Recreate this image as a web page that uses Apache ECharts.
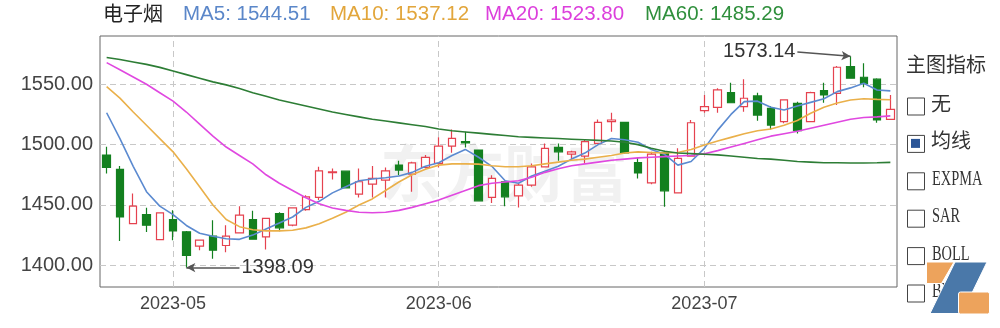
<!DOCTYPE html>
<html><head><meta charset="utf-8">
<script src="https://cdn.jsdelivr.net/npm/echarts@6/dist/echarts.min.js"></script>
<style>html,body{margin:0;padding:0;background:#fff}#c{width:1000px;height:328px}</style>
</head><body><div id="c"></div>
<script>
const title = '电子烟';
const dates = [
 '2023-04-24','2023-04-25','2023-04-26','2023-04-27','2023-04-28',
 '2023-05-04','2023-05-05','2023-05-08','2023-05-09','2023-05-10','2023-05-11','2023-05-12',
 '2023-05-15','2023-05-16','2023-05-17','2023-05-18','2023-05-19',
 '2023-05-22','2023-05-23','2023-05-24','2023-05-25','2023-05-26',
 '2023-05-29','2023-05-30','2023-05-31',
 '2023-06-01','2023-06-02','2023-06-05','2023-06-06','2023-06-07','2023-06-08','2023-06-09',
 '2023-06-12','2023-06-13','2023-06-14','2023-06-15','2023-06-16',
 '2023-06-19','2023-06-20','2023-06-21',
 '2023-06-26','2023-06-27','2023-06-28','2023-06-29','2023-06-30',
 '2023-07-03','2023-07-04','2023-07-05','2023-07-06','2023-07-07',
 '2023-07-10','2023-07-11','2023-07-12','2023-07-13','2023-07-14',
 '2023-07-17','2023-07-18','2023-07-19','2023-07-20','2023-07-21'
];
const opens = [1491.3,1479.4,1434.6,1442.1,1421.3,1437.9,1427.7,1415.8,1424.1,1416.4,
 1426.8,1437.9,1423.5,1442.9,1433.2,1446.2,1456.2,1476.8,1478.0,1458.9,
 1467.2,1470.6,1483.0,1475.5,1481.1,1484.4,1498.8,1502.4,1495.5,1456.2,
 1469.2,1457.5,1466.4,1481.6,1497.7,1492.1,1490.5,1501.0,1519.0,1518.5,
 1485.0,1468.3,1493.2,1460.0,1490.5,1528.1,1530.9,1543.0,1531.4,1540.3,
 1530.1,1519.0,1534.2,1519.0,1544.7,1542.5,1564.6,1555.8,1554.2,1520.9];
const closes = [1481.1,1440.1,1449.0,1433.2,1443.4,1428.5,1408.1,1420.8,1412.5,1424.1,
 1441.5,1421.6,1438.8,1431.0,1447.6,1456.7,1478.3,1477.5,1464.2,1469.2,
 1472.0,1478.3,1478.9,1484.9,1489.4,1498.8,1505.2,1501.5,1453.4,1472.0,
 1456.7,1466.4,1481.6,1496.9,1494.0,1494.0,1502.4,1518.5,1520.4,1493.2,
 1476.5,1492.1,1461.7,1488.6,1518.1,1531.4,1545.3,1534.7,1538.4,1524.5,
 1516.2,1537.0,1511.5,1543.0,1541.1,1564.1,1555.0,1550.8,1520.4,1529.2];
const lows = [1476.1,1420.2,1434.0,1427.6,1421.0,1420.8,1398.09,1412.5,1405.5,1410.8,
 1426.8,1421.6,1413.0,1428.2,1432.4,1445.1,1454.0,1471.1,1463.7,1456.2,
 1456.2,1456.2,1474.7,1460.9,1480.3,1481.1,1493.2,1497.7,1453.4,1451.7,
 1449.0,1447.9,1465.0,1481.0,1486.6,1487.2,1484.4,1500.5,1510.7,1492.5,
 1472.0,1467.2,1448.4,1459.5,1489.9,1526.4,1526.4,1534.2,1527.3,1519.8,
 1512.6,1517.6,1509.3,1518.5,1534.7,1532.8,1554.5,1547.5,1518.1,1520.5];
const highs = [1498.2,1482.2,1459.5,1447.6,1444.0,1445.7,1428.5,1421.3,1437.4,1433.2,
 1449.0,1445.1,1439.3,1444.0,1447.9,1458.1,1481.6,1480.3,1478.3,1480.3,
 1482.2,1481.1,1486.6,1485.8,1491.3,1506.0,1512.6,1510.7,1496.0,1474.7,
 1469.2,1467.8,1484.4,1501.0,1501.0,1494.9,1503.8,1520.9,1526.4,1519.0,
 1489.0,1494.0,1494.9,1496.9,1520.4,1541.1,1546.7,1551.3,1554.1,1543.0,
 1532.0,1537.5,1535.6,1543.9,1551.3,1565.2,1573.14,1567.4,1555.0,1541.1];
const ma5 = [1526.4,1505,1482,1461,1449,1442,1433,1426.5,1424,1422,
 1421.5,1425,1430,1435,1440,1448,1453,1460,1465,1470,
 1471.5,1472.5,1474,1477,1482,1485,1491,1496,1489.5,1482,
 1470,1468,1474,1478,1482,1488,1493,1500,1505,1504,
 1502,1496,1492,1483,1486,1496.9,1512,1525,1535.6,1536,
 1531,1528.7,1532,1535,1538,1543.9,1547,1550.8,1545.3,1544.51];
const ma10 = [1548,1538.5,1527,1516,1505,1494,1480,1465,1450,1438,
 1432,1429.5,1428.5,1428.5,1429,1431,1434.5,1439,1444,1450,
 1455,1462,1469,1475,1479.5,1483,1484,1484,1483.8,1482.5,
 1481.6,1481.6,1482.5,1484,1485.5,1487,1488,1489.5,1491,1493,
 1494,1493.5,1493,1493.5,1496,1499.6,1503,1506,1509,1511.5,
 1513,1516,1520,1526,1531,1534.5,1537,1538,1537.5,1537.12];
const ma20 = [1567.9,1562,1556,1550,1543,1536,1527,1517,1507,1498,
 1491,1484,1475,1468,1462,1456,1451,1447.5,1445.5,1444,
 1443.5,1444,1445.5,1448,1451,1454,1458,1462,1466,1468,
 1469,1470,1473,1477,1480,1482.5,1484,1485.5,1487,1488,
 1489,1489.5,1490,1490.5,1491,1492.5,1495,1498,1501,1504,
 1507,1509,1511,1513.5,1516,1518.5,1521,1522.5,1523,1523.8];
const ma60 = [1572.2,1570.5,1568.5,1566.5,1564,1561,1558,1555,1552,1549.5,
 1546.5,1543,1540,1537,1534.5,1532,1529.5,1527,1525,1523,
 1521,1519.5,1518,1516.5,1515,1513,1511.5,1510.5,1509.5,1508.5,
 1507.5,1506.5,1506,1505.5,1505,1504.5,1504,1503.5,1503,1502,
 1500,1497,1494.5,1493,1492.5,1492,1491.5,1490.5,1489.5,1488.5,
 1488,1487,1486,1485.5,1485,1485,1484.8,1484.8,1485,1485.29];
const yTicks = [1400, 1450, 1500, 1550];
const indicatorItems = ['无', '均线', 'EXPMA', 'SAR', 'BOLL', 'BBI'];
const indicatorChecked = '均线';

const maSeries = [
  {name: 'MA5', data: ma5, color: '#5b8ad0', legendColor: '#5b87c9'},
  {name: 'MA10', data: ma10, color: '#eab04a', legendColor: '#e2a63c'},
  {name: 'MA20', data: ma20, color: '#e048e0', legendColor: '#dc3fdc'},
  {name: 'MA60', data: ma60, color: '#2d7d35', legendColor: '#2f8f3c'}
];

const candleData = dates.map((d, i) => [opens[i], closes[i], lows[i], highs[i]]);
const monthStarts = [];
dates.forEach((d, i) => { if (i > 0 && d.slice(0, 7) !== dates[i - 1].slice(0, 7)) monthStarts.push(i); });
let hiIdx = 0, loIdx = 0;
highs.forEach((v, i) => { if (v > highs[hiIdx]) hiIdx = i; });
lows.forEach((v, i) => { if (v < lows[loIdx]) loIdx = i; });

const chart = echarts.init(document.getElementById('c'), null, {renderer: 'canvas'});

const latinFont = '"Liberation Sans", Arial, sans-serif';
const cjkFont = '"Noto Sans CJK SC", "Liberation Sans", sans-serif';

const graphics = [];
graphics.push({type: 'text', left: 103, top: 3, z: 10,
  style: {text: title, fill: '#222', font: '20px ' + cjkFont}});
const legendX = [183, 330, 485, 645];
maSeries.forEach((s, k) => {
  graphics.push({type: 'text', left: legendX[k], top: 4, z: 10,
    style: {text: s.name + ': ' + s.data[s.data.length - 1].toFixed(2), fill: s.legendColor,
      font: '20.5px ' + latinFont}});
});
// watermark
graphics.push({type: 'text', left: 380, top: 142, z: 0, silent: true,
  style: {text: '东方财富', fill: 'rgba(120,120,120,0.10)', font: 'bold 62px ' + cjkFont}});
// right indicator panel
graphics.push({type: 'text', left: 906, top: 54, z: 10,
  style: {text: '主图指标', fill: '#333', font: '20px ' + cjkFont}});
indicatorItems.forEach((t, k) => {
  const cy = 106 + k * 37.4;
  graphics.push({type: 'rect', left: 907, top: cy - 8.5, z: 10,
    shape: {width: 17, height: 17}, style: {fill: '#fff', stroke: '#444', lineWidth: 1}});
  if (t === indicatorChecked) {
    graphics.push({type: 'rect', left: 911, top: cy - 4.5, z: 11,
      shape: {width: 9, height: 9}, style: {fill: '#2b5597'}});
  }
  const isCjk = /[\u4e00-\u9fff]/.test(t);
  if (isCjk) {
    graphics.push({type: 'text', left: 931, top: cy - 13, z: 10,
      style: {text: t, fill: '#333', font: '20px ' + cjkFont}});
  } else {
    graphics.push({type: 'text', x: 932, y: cy - 11, scaleX: 0.72, z: 10,
      style: {text: t, fill: '#333', font: '20px "Liberation Serif", serif'}});
  }
});
// corner logo
graphics.push({type: 'polygon', z: 20, shape: {points: [[955, 262], [987, 262], [962, 313.5], [930, 313.5]]}, style: {fill: '#4a78a9', stroke: '#fff', lineWidth: 1}});
graphics.push({type: 'polygon', z: 21, shape: {points: [[926.5, 262], [954, 262], [941.5, 283.5], [926.5, 283.5]]}, style: {fill: '#eda35c', stroke: '#fff', lineWidth: 1}});
graphics.push({type: 'rect', z: 21, left: 958, top: 291.5, shape: {width: 31, height: 22, r: 2}, style: {fill: '#eda35c', stroke: '#fff', lineWidth: 1}});

const option = {
  animation: false,
  backgroundColor: '#fff',
  grid: {left: 100, right: 103, top: 36, bottom: 41, show: true,
    borderColor: '#666', borderWidth: 1, backgroundColor: 'transparent'},
  xAxis: {
    type: 'category', data: dates, boundaryGap: true,
    axisLine: {show: false}, axisTick: {show: false}, splitLine: {show: false},
    axisLabel: {
      interval: (i) => monthStarts.indexOf(i) >= 0,
      formatter: (v) => v.slice(0, 7),
      fontSize: 18, color: '#444', margin: 8, fontFamily: 'Liberation Sans'
    }
  },
  yAxis: {
    type: 'value', min: 1382, max: 1590, scale: true,
    axisLine: {show: false},
    axisTick: {show: false, customValues: yTicks},
    axisLabel: {customValues: yTicks, formatter: (v) => v.toFixed(2),
      fontSize: 20, color: '#444', margin: 7, fontFamily: 'Liberation Sans'},
    splitLine: {show: true, lineStyle: {color: '#c8c8c8', type: [6, 4], width: 1}}
  },
  graphic: {elements: graphics},
  series: [
    {
      type: 'line', name: 'grid-v', data: [], silent: true, showSymbol: false,
      markLine: {
        silent: true, symbol: ['none', 'none'], z: 1, animation: false,
        label: {show: false},
        lineStyle: {color: '#c8c8c8', type: [6, 4], width: 1},
        data: monthStarts.map(i => ({xAxis: dates[i]}))
      }
    },
    {
      type: 'candlestick', name: title, data: candleData, barWidth: 8, z: 3,
      itemStyle: {color: '#ffffff', color0: '#13801f', borderColor: '#e5424f', borderColor0: '#13801f', borderWidth: 1.2},
      markLine: {
        silent: true, animation: false, z: 6,
        symbol: ['none', 'arrow'], symbolSize: [7, 9],
        lineStyle: {color: '#555', type: 'solid', width: 1.5},
        label: {show: true, position: 'start', fontSize: 20, color: '#333', fontFamily: 'Liberation Sans', distance: 2},
        data: [
          [{coord: [dates[hiIdx - 4], highs[hiIdx] + 3.5], label: {formatter: highs[hiIdx].toFixed(2)}},
           {coord: [dates[hiIdx], highs[hiIdx]]}],
          [{coord: [dates[loIdx + 4], lows[loIdx]], label: {formatter: lows[loIdx].toFixed(2)}},
           {coord: [dates[loIdx], lows[loIdx]]}]
        ]
      }
    }
  ].concat(maSeries.map(s => ({
    type: 'line', name: s.name, data: s.data, showSymbol: false, symbol: 'none',
    lineStyle: {color: s.color, width: 1.6}, itemStyle: {color: s.color}, z: 4, silent: true
  })))
};
chart.setOption(option);
</script></body></html>
